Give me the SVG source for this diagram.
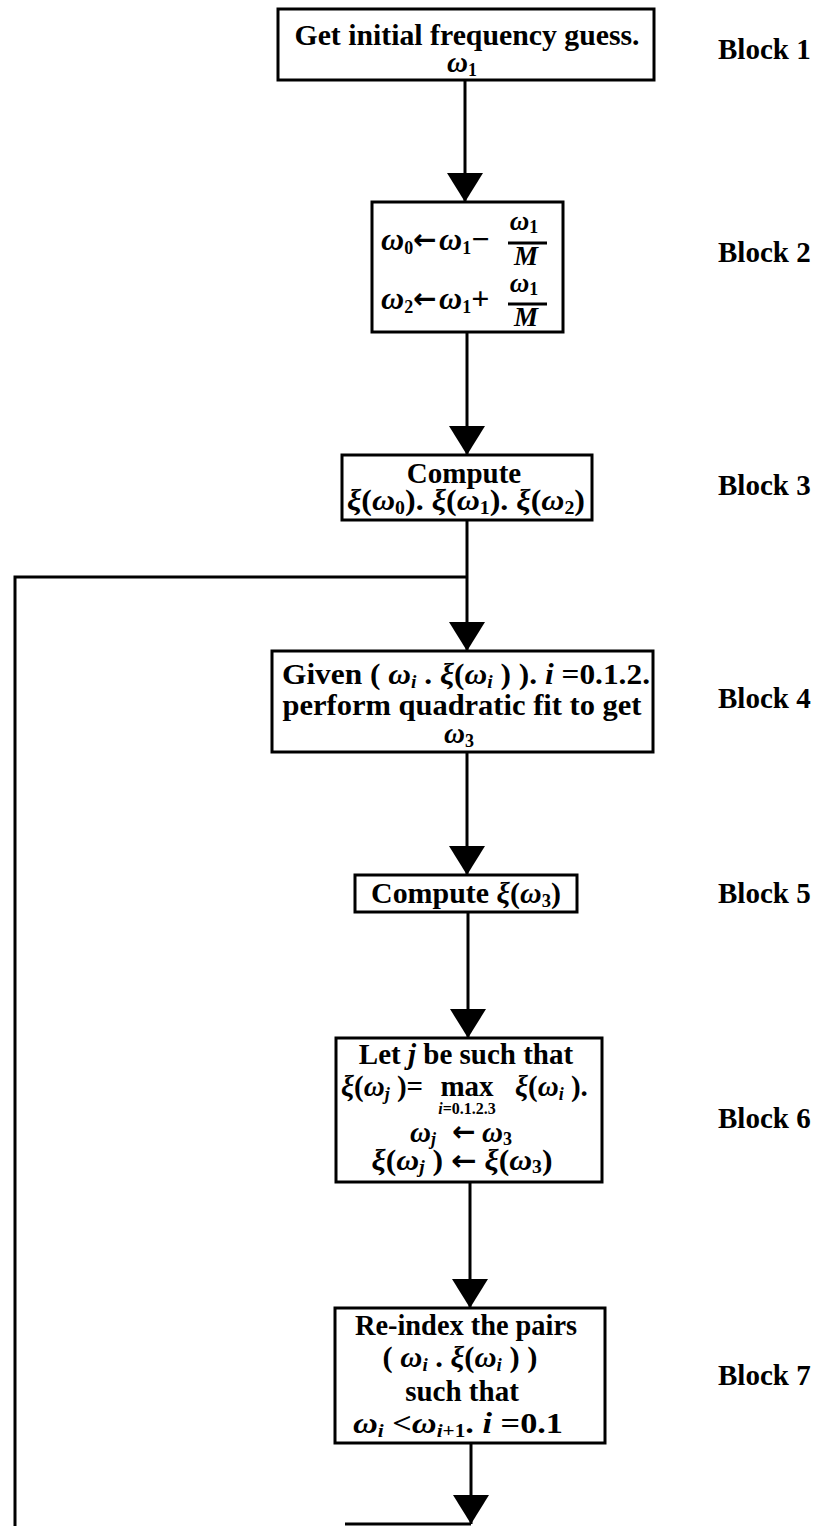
<svg xmlns="http://www.w3.org/2000/svg" width="818" height="1526" viewBox="0 0 818 1526">
<style>
.box{fill:#fff;stroke:#000;stroke-width:3}
.ln{fill:none;stroke:#000;stroke-width:3}
text{font-family:"Liberation Serif","DejaVu Serif",serif;font-weight:bold;font-size:29px;fill:#000}
.c{text-anchor:middle}
.m{font-style:italic}
.s{font-size:18px}
.lbl{font-size:29px}
.sm{font-size:16px}
.ar{font-family:"DejaVu Sans",sans-serif;font-size:28px}
.fr{font-size:27px}
.big{font-size:32px}
</style>
<defs>
<marker id="ah" markerUnits="userSpaceOnUse" markerWidth="30" markerHeight="38" refX="29" refY="18" orient="auto" viewBox="0 0 30 36">
<path d="M0,0 L29,18 L0,36 z" fill="#000"/>
</marker>
</defs>
<g id="connectors">
<line class="ln" x1="465" y1="80" x2="465" y2="202" marker-end="url(#ah)"/>
<line class="ln" x1="467" y1="332" x2="467" y2="455" marker-end="url(#ah)"/>
<line class="ln" x1="467" y1="520" x2="467" y2="651" marker-end="url(#ah)"/>
<polyline class="ln" points="15,1526 15,577 467,577"/>
<line class="ln" x1="467" y1="752" x2="467" y2="875" marker-end="url(#ah)"/>
<line class="ln" x1="468" y1="912" x2="468" y2="1038" marker-end="url(#ah)"/>
<line class="ln" x1="470" y1="1182" x2="470" y2="1308" marker-end="url(#ah)"/>
<line class="ln" x1="471" y1="1443" x2="471" y2="1524" marker-end="url(#ah)"/>
<line class="ln" x1="345" y1="1524" x2="471" y2="1524"/>
</g>
<g id="block1">
<rect class="box" x="278" y="9" width="376" height="71"/>
<text class="c" x="467" y="45" textLength="345" lengthAdjust="spacingAndGlyphs">Get initial frequency guess.</text>
<text class="c" x="462" y="72"><tspan class="m">ω</tspan><tspan class="s" dy="4">1</tspan></text>
<text class="lbl" x="718" y="59">Block 1</text>
</g>
<g id="block2">
<rect class="box" x="372" y="202" width="191" height="130"/>
<text class="big" x="381" y="250"><tspan class="m">ω</tspan><tspan class="s" dy="4">0</tspan></text>
<text class="ar" x="413" y="249">←</text>
<text class="big" x="439" y="250"><tspan class="m">ω</tspan><tspan class="s" dy="4">1</tspan><tspan dy="-4">−</tspan></text>
<text class="c fr" x="524" y="230"><tspan class="m">ω</tspan><tspan class="s" dy="3">1</tspan></text>
<line class="ln" x1="508" y1="243" x2="547" y2="243"/>
<text class="c m fr" x="526" y="265">M</text>
<text class="big" x="381" y="309"><tspan class="m">ω</tspan><tspan class="s" dy="4">2</tspan></text>
<text class="ar" x="413" y="308">←</text>
<text class="big" x="439" y="309"><tspan class="m">ω</tspan><tspan class="s" dy="4">1</tspan><tspan dy="-4">+</tspan></text>
<text class="c fr" x="524" y="292"><tspan class="m">ω</tspan><tspan class="s" dy="3">1</tspan></text>
<line class="ln" x1="508" y1="304" x2="547" y2="304"/>
<text class="c m fr" x="526" y="326">M</text>
<text class="lbl" x="718" y="262">Block 2</text>
</g>
<g id="block3">
<rect class="box" x="342" y="455" width="250" height="65"/>
<text class="c" x="464" y="483">Compute</text>
<text class="c" x="466" y="510" textLength="238" lengthAdjust="spacingAndGlyphs"><tspan class="m">ξ</tspan>(<tspan class="m">ω</tspan><tspan class="s" dy="4">0</tspan><tspan dy="-4">). </tspan><tspan class="m">ξ</tspan>(<tspan class="m">ω</tspan><tspan class="s" dy="4">1</tspan><tspan dy="-4">). </tspan><tspan class="m">ξ</tspan>(<tspan class="m">ω</tspan><tspan class="s" dy="4">2</tspan><tspan dy="-4">)</tspan></text>
<text class="lbl" x="718" y="495">Block 3</text>
</g>
<g id="block4">
<rect class="box" x="272" y="651" width="381" height="101"/>
<text class="c" x="466" y="684" textLength="368" lengthAdjust="spacingAndGlyphs">Given ( <tspan class="m">ω</tspan><tspan class="s m" dy="4">i</tspan><tspan dy="-4"> . </tspan><tspan class="m">ξ</tspan>(<tspan class="m">ω</tspan><tspan class="s m" dy="4">i</tspan><tspan dy="-4"> ) ). </tspan><tspan class="m">i</tspan> =0.1.2.</text>
<text class="c" x="462" y="715" textLength="359" lengthAdjust="spacingAndGlyphs">perform quadratic fit to get</text>
<text class="c" x="459" y="743"><tspan class="m">ω</tspan><tspan class="s" dy="4">3</tspan></text>
<text class="lbl" x="718" y="708">Block 4</text>
</g>
<g id="block5">
<rect class="box" x="355" y="875" width="222" height="37"/>
<text class="c" x="466" y="903" textLength="190" lengthAdjust="spacingAndGlyphs">Compute <tspan class="m">ξ</tspan>(<tspan class="m">ω</tspan><tspan class="s" dy="4">3</tspan><tspan dy="-4">)</tspan></text>
<text class="lbl" x="718" y="903">Block 5</text>
</g>
<g id="block6">
<rect class="box" x="336" y="1038" width="266" height="144"/>
<text class="c" x="466" y="1064">Let <tspan class="m">j</tspan> be such that</text>
<text x="341" y="1096"><tspan class="m">ξ</tspan>(<tspan class="m">ω</tspan><tspan class="s m" dy="4">j</tspan><tspan dy="-4"> )=</tspan></text>
<text class="c" x="467" y="1096" font-size="27">max</text>
<text class="c sm" x="467" y="1114"><tspan class="m">i</tspan>=0.1.2.3</text>
<text x="515" y="1096"><tspan class="m">ξ</tspan>(<tspan class="m">ω</tspan><tspan class="s m" dy="4">i</tspan><tspan dy="-4"> ).</tspan></text>
<text x="410" y="1142" font-size="27"><tspan class="m">ω</tspan><tspan class="s m" dy="3">j</tspan></text>
<text class="ar" x="452" y="1141" font-size="26">←</text>
<text x="482" y="1142" font-size="27"><tspan class="m">ω</tspan><tspan class="s" dy="3">3</tspan></text>
<text class="c" x="462" y="1170" font-size="27" textLength="181" lengthAdjust="spacingAndGlyphs"><tspan class="m">ξ</tspan>(<tspan class="m">ω</tspan><tspan class="s m" dy="3">j</tspan><tspan dy="-3"> ) </tspan><tspan class="ar" font-size="24">←</tspan> <tspan class="m">ξ</tspan>(<tspan class="m">ω</tspan><tspan class="s" dy="3">3</tspan><tspan dy="-3">)</tspan></text>
<text class="lbl" x="718" y="1128">Block 6</text>
</g>
<g id="block7">
<rect class="box" x="335" y="1308" width="270" height="135"/>
<text class="c" x="466" y="1335" textLength="222" lengthAdjust="spacingAndGlyphs">Re-index the pairs</text>
<text class="c" x="460" y="1367" textLength="155" lengthAdjust="spacingAndGlyphs">( <tspan class="m">ω</tspan><tspan class="s m" dy="4">i</tspan><tspan dy="-4"> . </tspan><tspan class="m">ξ</tspan>(<tspan class="m">ω</tspan><tspan class="s m" dy="4">i</tspan><tspan dy="-4"> ) )</tspan></text>
<text class="c" x="462" y="1401">such that</text>
<text class="c" x="458" y="1433" textLength="210" lengthAdjust="spacingAndGlyphs"><tspan class="m">ω</tspan><tspan class="s m" dy="4">i</tspan><tspan dy="-4"> &lt;</tspan><tspan class="m">ω</tspan><tspan class="s" dy="4"><tspan class="m">i</tspan>+1</tspan><tspan dy="-4">. </tspan><tspan class="m">i</tspan> =0.1</text>
<text class="lbl" x="718" y="1385">Block 7</text>
</g>
</svg>
